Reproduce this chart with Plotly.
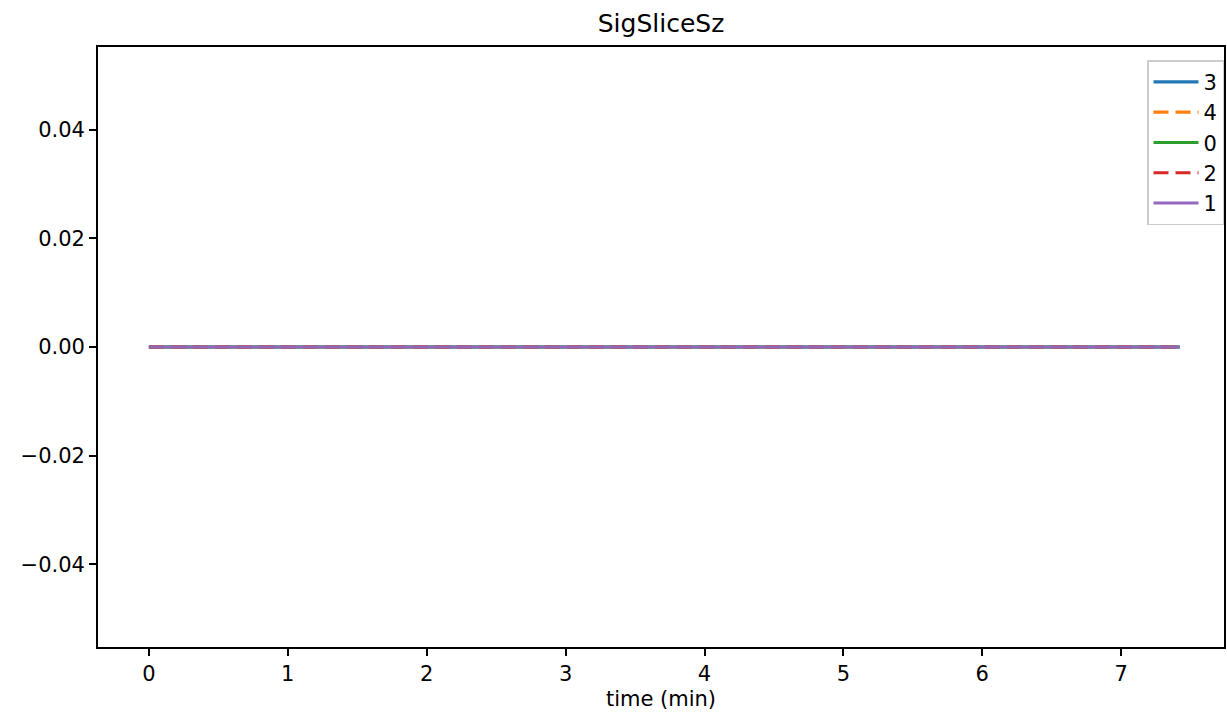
import plotly.graph_objects as go

# data
time_min = [0.0, 0.5, 1.0, 1.5, 2.0, 2.5, 3.0, 3.5, 4.0, 4.5, 5.0, 5.5, 6.0, 6.5, 7.0, 7.42]
series_names = ["3", "4", "0", "2", "1"]
series_values = {
    "3": [0, 0, 0, 0, 0, 0, 0, 0, 0, 0, 0, 0, 0, 0, 0, 0],
    "4": [0, 0, 0, 0, 0, 0, 0, 0, 0, 0, 0, 0, 0, 0, 0, 0],
    "0": [0, 0, 0, 0, 0, 0, 0, 0, 0, 0, 0, 0, 0, 0, 0, 0],
    "2": [0, 0, 0, 0, 0, 0, 0, 0, 0, 0, 0, 0, 0, 0, 0, 0],
    "1": [0, 0, 0, 0, 0, 0, 0, 0, 0, 0, 0, 0, 0, 0, 0, 0],
}
x_ticks = [0, 1, 2, 3, 4, 5, 6, 7]
y_ticks = [-0.04, -0.02, 0.0, 0.02, 0.04]
y_tick_labels = ["\u22120.04", "\u22120.02", "0.00", "0.02", "0.04"]

styles = {
    "3": ("#1f77b4", "solid"),
    "4": ("#ff7f0e", "15px,7px"),
    "0": ("#2ca02c", "solid"),
    "2": ("#d62728", "15px,7px"),
    "1": ("#9467bd", "solid"),
}

fig = go.Figure()
for name in series_names:
    color, dash = styles[name]
    fig.add_trace(go.Scatter(
        x=time_min, y=series_values[name], mode="lines", name=name,
        line=dict(color=color, width=3.1, dash=dash),
    ))

font = "DejaVu Sans"
fig.update_layout(
    width=1227, height=723,
    margin=dict(l=98, r=1, t=47, b=76),
    paper_bgcolor="white", plot_bgcolor="white",
    font=dict(family=font, size=21, color="black"),
    title=dict(text="SigSliceSz", x=0.5, xref="paper", y=0.968, yanchor="middle",
               font=dict(family=font, size=25, color="black")),
    showlegend=True,
    legend=dict(x=1.0, y=0.978, xanchor="right", yanchor="top",
                bgcolor="rgba(255,255,255,0.8)", bordercolor="#cccccc", borderwidth=1.5,
                font=dict(family=font, size=21, color="black"),
                traceorder="normal", itemwidth=45, tracegroupgap=0),
)
fig.update_xaxes(
    range=[-0.3665, 7.74], tickvals=x_ticks, ticktext=[str(t) for t in x_ticks],
    showgrid=False, zeroline=False, showline=True, linecolor="black", linewidth=1.7,
    mirror=True, ticks="outside", ticklen=7, tickwidth=1.7, tickcolor="black",
    title=dict(text="time (min)", font=dict(family=font, size=21), standoff=6),
)
fig.update_yaxes(
    range=[-0.0552, 0.0552], tickvals=y_ticks, ticktext=y_tick_labels,
    showgrid=False, zeroline=False, showline=True, linecolor="black", linewidth=1.7,
    mirror=True, ticks="outside", ticklen=7, tickwidth=1.7, tickcolor="black",
)

fig.write_html("out.html", config={"displayModeBar": False},
               post_script="document.body.style.margin='0';document.body.style.overflow='hidden';")
